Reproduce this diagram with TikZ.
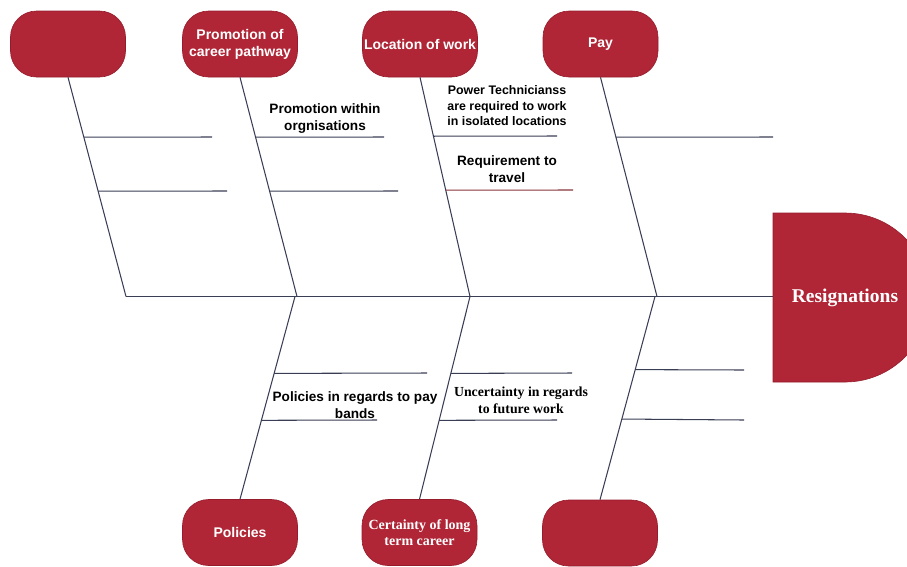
\documentclass[tikz,border=0pt]{standalone}
\usepackage{fontspec}
\setmainfont{Liberation Serif}
\newfontfamily\labelsans{Liberation Sans}
\usetikzlibrary{calc}
\definecolor{causered}{RGB}{176,38,54}
\definecolor{causeedge}{RGB}{150,28,44}
\definecolor{boneline}{RGB}{58,62,84}
\definecolor{travelline}{RGB}{135,52,58}
\begin{document}
\begin{tikzpicture}[x=1pt,y=-1pt,
  cause/.style={draw=causeedge, line width=0.6pt, fill=causered, rounded corners=26pt,
    minimum width=115pt, minimum height=66pt, inner sep=0pt, text=white, align=center,
    font=\labelsans\bfseries\fontsize{14}{17}\selectfont},
  causeserif/.style={cause, font=\bfseries\fontsize{14}{16.5}\selectfont},
  bone/.style={draw=boneline, line width=1.05pt},
  note/.style={align=center, inner sep=0pt, text=black,
    font=\labelsans\bfseries\fontsize{13.6}{16.5}\selectfont},
  notesmall/.style={note, font=\labelsans\bfseries\fontsize{12.4}{15.5}\selectfont},
  noteserif/.style={note, font=\bfseries\fontsize{13.8}{16.5}\selectfont},
  ]
\useasboundingbox (0,0) rectangle (907,566);

% effect head
\path[fill=causered, draw=causeedge, line width=0.6pt]
  (773,213) -- (845,213) arc[start angle=-90, end angle=90, radius=84.5]
  -- (773,382) -- cycle;
\node[text=white, font=\bfseries\fontsize{19.5}{22}\selectfont] (res) at (845,298) {Resignations};
\coordinate (resw) at (773,296.5);

% cause boxes
\node[cause] (c1) at (68,44) {};
\node[cause] (c2) at (240,44) {Promotion of\\career pathway};
\node[cause] (c3) at (420,44) {Location of work};
\node[cause] (c4) at (600.5,44) {Pay};
\node[cause] (c5) at (240,532.5) {Policies};
\node[causeserif] (c6) at (419.5,532.5) {Certainty of long\\term career};
\node[cause] (c7) at (600,533) {};

% junctions on the backbone
\coordinate (j1) at (126,296.5);
\coordinate (j2) at (297,296.5);
\coordinate (j3) at (470,296.5);
\coordinate (j4) at (657,296.5);
\coordinate (k1) at (295,296.5);
\coordinate (k2) at (470,296.5);
\coordinate (k3) at (655,296.5);

% backbone and main bones
\draw[bone] (j1) -- (resw);
\draw[bone] (c1.south) -- (j1);
\draw[bone] (c2.south) -- (j2);
\draw[bone] (c3.south) -- (j3);
\draw[bone] (c4.south) -- (j4);
\draw[bone] (k1) -- (c5.north);
\draw[bone] (k2) -- (c6.north);
\draw[bone] (k3) -- (c7.north);

% sub-cause lines
\coordinate (a1) at ($(c1.south)!0.2733!(j1)$); \coordinate (a1e) at (212,137);
\coordinate (a2) at ($(c1.south)!0.5194!(j1)$); \coordinate (a2e) at (227,191);
\draw[bone] (a1) -- (a1e);
\draw[bone] (a2) -- (a2e);

\coordinate (b1) at ($(c2.south)!0.2733!(j2)$); \coordinate (b1e) at (384,137);
\coordinate (b2) at ($(c2.south)!0.5194!(j2)$); \coordinate (b2e) at (398,191);
\draw[bone] (b1) -- (b1e);
\draw[bone] (b2) -- (b2e);

\coordinate (d1) at ($(c3.south)!0.2688!(j3)$); \coordinate (d1e) at (557,136);
\coordinate (d2) at ($(c3.south)!0.5148!(j3)$); \coordinate (d2e) at (573,190);
\draw[bone] (d1) -- (d1e);
\draw[bone, draw=travelline] (d2) -- (d2e);

\coordinate (e1) at ($(c4.south)!0.2733!(j4)$); \coordinate (e1e) at (773,137);
\draw[bone] (e1) -- (e1e);

\coordinate (f1) at ($(k1)!0.3793!(c5.north)$); \coordinate (f1e) at (427,373);
\coordinate (f2) at ($(k1)!0.6108!(c5.north)$); \coordinate (f2e) at (377,420);
\draw[bone] (f1) -- (f1e);
\draw[bone] (f2) -- (f2e);

\coordinate (g1) at ($(k2)!0.3793!(c6.north)$); \coordinate (g1e) at (572,373);
\coordinate (g2) at ($(k2)!0.6108!(c6.north)$); \coordinate (g2e) at (557,420);
\draw[bone] (g1) -- (g1e);
\draw[bone] (g2) -- (g2e);

\coordinate (h1) at ($(k3)!0.3598!(c7.north)$); \coordinate (h1e) at (744,370);
\coordinate (h2) at ($(k3)!0.6030!(c7.north)$); \coordinate (h2e) at (744,420);
\draw[bone] (h1) -- (h1e);
\draw[bone] (h2) -- (h2e);

% sub-cause labels
\node[note] (n1) at (325,118.5) {Promotion within\\orgnisations};
\node[notesmall] (n2) at (507,106) {Power Technicianss\\are required to work\\in isolated locations};
\node[note] (n3) at (507,169) {Requirement to\\travel};
\node[note] (n4) at (355,405) {Policies in regards to pay\\bands};
\node[noteserif] (n5) at (521,400.5) {Uncertainty in regards\\to future work};
\end{tikzpicture}
\end{document}
